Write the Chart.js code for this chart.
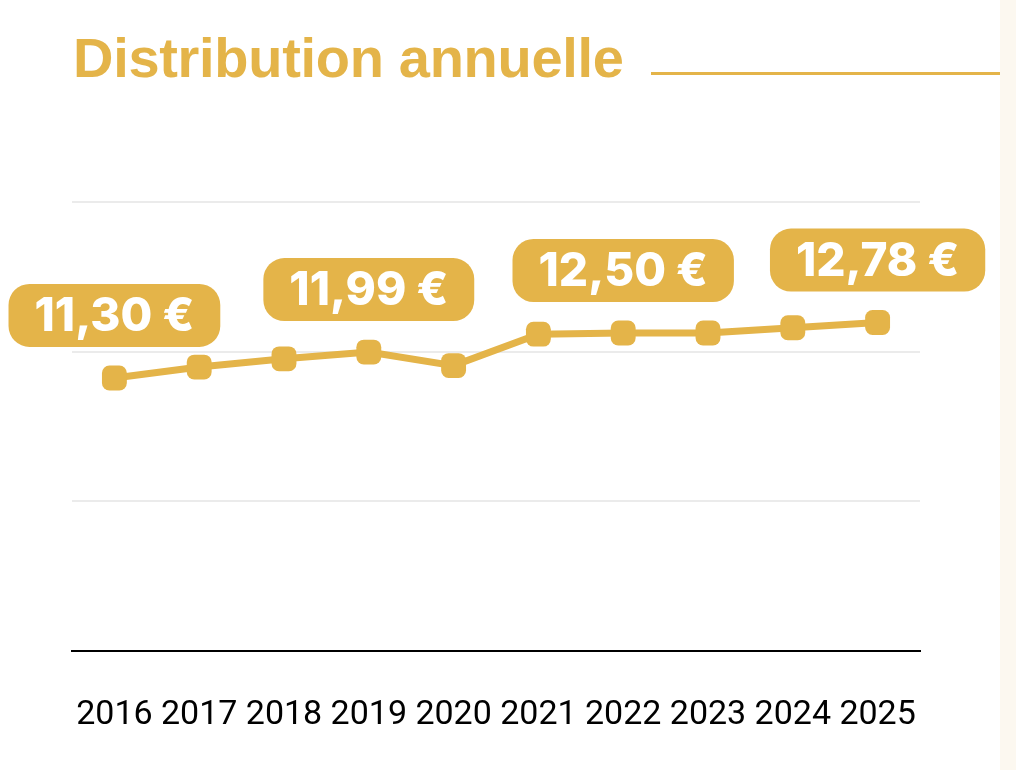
<!DOCTYPE html>
<html lang="fr">
<head>
<meta charset="utf-8">
<title>Distribution annuelle</title>
<script src="https://cdn.jsdelivr.net/npm/chart.js@4"></script>
<style>
    html, body { margin: 0; padding: 0; background: #ffffff; }
    body { width: 1016px; height: 770px; position: relative; overflow: hidden; }
    #title {
        position: absolute; left: 73px; top: 30px;
        font-family: "Liberation Sans", Arial, sans-serif;
        font-weight: bold; font-size: 56px; line-height: 1;
        letter-spacing: -0.3px; color: #E4B449; white-space: nowrap;
    }
    #rule { position: absolute; left: 651px; top: 72px; width: 349px; height: 3px; background: #E4B449; }
    #strip { position: absolute; left: 1000px; top: 0; width: 16px; height: 770px; background: #fcf8f0; }
    #wrap { position: absolute; left: 0; top: 0; width: 1000px; height: 810px; }
</style>
</head>
<body>
<div id="title">Distribution annuelle</div>
<div id="rule"></div>
<div id="strip"></div>
<div id="wrap"><canvas id="distChart"></canvas></div>

<script>
const years = ['2016', '2017', '2018', '2019', '2020', '2021', '2022', '2023', '2024', '2025'];
const dividends = [11.30, 11.59, 11.81, 11.99, 11.63, 12.47, 12.50, 12.50, 12.64, 12.78];
const labelYears = ['2016', '2019', '2022', '2025'];
const yTicks = [4, 8, 12, 16];

const gold = '#E4B449';

function formatEuro(v) {
    return v.toFixed(2).replace('.', ',') + ' €';
}

// pastilles de valeur au-dessus de certains points
const valueBadges = {
    id: 'valueBadges',
    afterDatasetsDraw(chart) {
        const ctx = chart.ctx;
        const meta = chart.getDatasetMeta(0);
        ctx.save();
        ctx.font = '800 46px Inter, "Liberation Sans", sans-serif';
        ctx.textAlign = 'center';
        ctx.textBaseline = 'middle';
        labelYears.forEach(year => {
            const i = years.indexOf(year);
            const pt = meta.data[i];
            const text = formatEuro(dividends[i]);
            const w = ctx.measureText(text).width + 52;
            const h = 63;
            const bottom = pt.y - 31;
            ctx.fillStyle = gold;
            ctx.beginPath();
            ctx.roundRect(pt.x - w / 2, bottom - h, w, h, 21);
            ctx.fill();
            ctx.fillStyle = '#ffffff';
            ctx.fillText(text, pt.x, bottom - h / 2 + 2);
        });
        ctx.restore();
    }
};

const ctx = document.getElementById('distChart').getContext('2d');
new Chart(ctx, {
    type: 'line',
    data: {
        labels: years,
        datasets: [{
            data: dividends,
            borderColor: gold,
            backgroundColor: gold,
            borderWidth: 7,
            tension: 0,
            pointStyle: 'rectRounded',
            pointRadius: 14.5,
            pointBorderWidth: 0,
            pointBackgroundColor: gold
        }]
    },
    options: {
        responsive: true,
        maintainAspectRatio: false,
        animation: false,
        layout: {
            padding: { left: 72, right: 80, top: 202, bottom: 38 }
        },
        plugins: {
            legend: { display: false },
            tooltip: { enabled: false }
        },
        scales: {
            x: {
                offset: true,
                grid: { display: false },
                border: { display: true, color: '#000000', width: 2 },
                ticks: {
                    color: '#000000',
                    padding: 36,
                    maxRotation: 0,
                    minRotation: 0,
                    autoSkip: false,
                    font: { family: 'Roboto, sans-serif', size: 34 }
                }
            },
            y: {
                min: yTicks[0],
                max: yTicks[yTicks.length - 1],
                afterBuildTicks(axis) {
                    axis.ticks = yTicks.map(v => ({ value: v }));
                },
                ticks: { display: false },
                border: { display: false },
                grid: {
                    color: ctx => ctx.tick.value === yTicks[0] ? 'rgba(0,0,0,0)' : '#ebebeb',
                    lineWidth: 2,
                    drawTicks: false
                }
            }
        }
    },
    plugins: [valueBadges]
});
</script>
</body>
</html>
